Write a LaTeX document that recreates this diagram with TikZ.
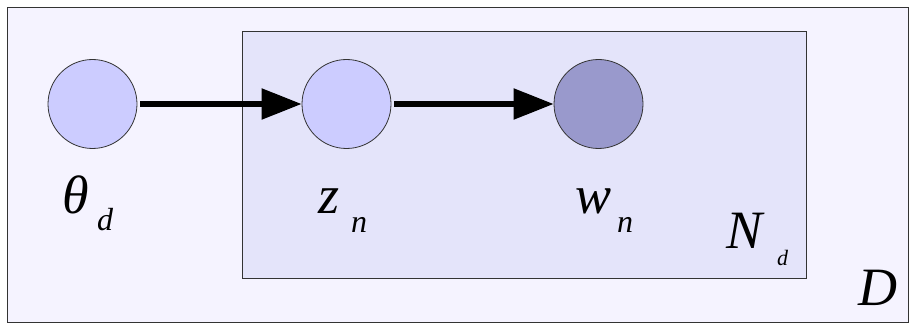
\documentclass[tikz,border=0pt]{standalone}
\usepackage{fontspec}
\setmainfont{Liberation Serif}
\newfontfamily\labfont{Liberation Serif Italic}
\usetikzlibrary{arrows.meta}
\definecolor{outerfill}{HTML}{F5F3FF}
\definecolor{innerfill}{HTML}{E4E4FA}
\definecolor{latfill}{HTML}{CCCCFF}
\definecolor{obsfill}{HTML}{9999CC}
\definecolor{edge}{HTML}{333333}
\tikzset{
  var/.style={circle, draw=edge, line width=0.8pt, minimum size=89pt, inner sep=0pt},
  big/.style={inner sep=0pt, anchor=base west, font=\labfont\fontsize{54}{54}\selectfont},
  sub/.style={inner sep=0pt, anchor=base west, font=\labfont\fontsize{32}{32}\selectfont},
  tiny/.style={inner sep=0pt, anchor=base west, font=\labfont\fontsize{22}{22}\selectfont},
  link/.style={line width=5.5pt, -{Triangle[length=40pt, width=30pt]}, shorten <=3pt}
}
\begin{document}
\begin{tikzpicture}[x=1pt, y=-1pt]
\useasboundingbox (0,0) rectangle (910,326);
\draw[edge, fill=outerfill, line width=1pt] (7,8) rectangle (908,322);
\draw[edge, fill=innerfill, line width=1pt] (242,32) rectangle (806,278);
\node[var, fill=latfill] (theta) at (92.5,104) {};
\node[var, fill=latfill] (z) at (346.5,104) {};
\node[var, fill=obsfill] (w) at (598.5,104) {};
\draw[link] (theta) -- (z);
\draw[link] (z) -- (w);
\node[big] (thl) at (62,213) {θ};
\node[sub] (thd) at (97,230) {d};
\node[big] (zl) at (318,213) {z};
\node[sub] (zn) at (351,232) {n};
\node[big] (wl) at (575,213) {w};
\node[sub] (wn) at (617,232) {n};
\node[big] (Nl) at (726,248) {N};
\node[tiny] (Nd) at (777,265) {d};
\node[big] (Dl) at (858,305) {D};
\end{tikzpicture}
\end{document}
